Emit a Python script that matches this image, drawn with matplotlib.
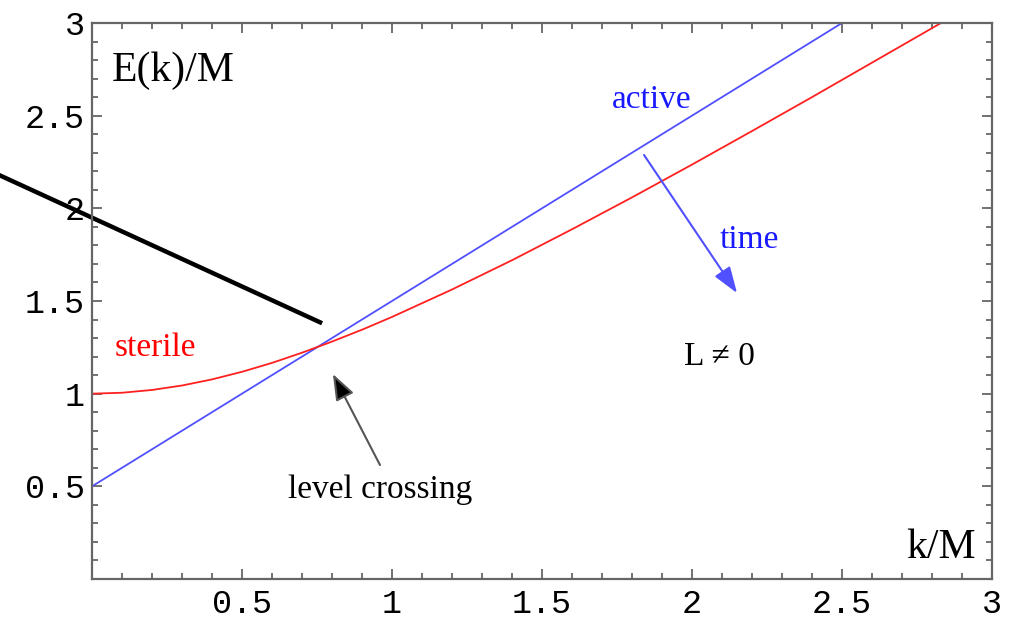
import matplotlib.pyplot as plt
from matplotlib.ticker import MultipleLocator

# values
k_active = [0.0, 2.5]
E_active = [0.5, 3.0]

k_sterile = [0.0, 0.1, 0.2, 0.3, 0.4, 0.5, 0.6, 0.7, 0.8, 0.9, 1.0, 1.2, 1.4, 1.6, 1.8,
             2.0, 2.2, 2.4, 2.6, 2.83]
E_sterile = [1.0, 1.005, 1.02, 1.044, 1.077, 1.118, 1.166, 1.221, 1.281, 1.345, 1.414,
             1.562, 1.72, 1.887, 2.059, 2.236, 2.417, 2.6, 2.786, 3.0]

pointer_k = [-0.31, 0.767]
pointer_E = [2.18, 1.38]

x_ticks = [0.5, 1, 1.5, 2, 2.5, 3]
y_ticks = [0.5, 1, 1.5, 2, 2.5, 3]
tick_labels = ['0.5', '1', '1.5', '2', '2.5', '3']

serif = 'Liberation Serif'
mono = 'Liberation Mono'
blue_line = '#5050ff'
blue_text = '#1a1aff'
frame = '#666666'

fig = plt.figure(figsize=(10.12, 6.19), dpi=100)
ax = fig.add_axes([92 / 1012, 40 / 619, 900 / 1012, 556 / 619])

ax.plot(k_active, E_active, color=blue_line, lw=1.3)
ax.plot(k_sterile, E_sterile, color='#ff2020', lw=1.3)
ax.plot(pointer_k, pointer_E, color='black', lw=3.2, clip_on=False, solid_capstyle='butt')

ax.set_xlim(0, 3)
ax.set_ylim(0, 3)
ax.set_xticks(x_ticks)
ax.set_yticks(y_ticks)
ax.set_xticklabels(tick_labels, fontfamily=mono, fontsize=24)
ax.set_yticklabels(tick_labels, fontfamily=mono, fontsize=24)
ax.xaxis.set_minor_locator(MultipleLocator(0.1))
ax.yaxis.set_minor_locator(MultipleLocator(0.1))
ax.tick_params(which='both', direction='in', top=True, right=True, color=frame, width=1.3)
ax.tick_params(which='major', length=7, pad=5)
ax.tick_params(axis='x', which='major', pad=7)
ax.tick_params(which='minor', length=4)
for sp in ax.spines.values():
    sp.set_color(frame)
    sp.set_linewidth(1.6)

# labels
ax.text(0.067, 2.74, 'E(k)/M', fontfamily=serif, fontsize=30, va='center', ha='left')
ax.text(2.83, 0.167, 'k/M', fontfamily=serif, fontsize=30, va='center', ha='center')
ax.text(1.867, 2.585, 'active', fontfamily=serif, fontsize=24, color=blue_text, va='center', ha='center')
ax.text(0.21, 1.25, 'sterile', fontfamily=serif, fontsize=24, color='red', va='center', ha='center')
ax.text(2.19, 1.83, 'time', fontfamily=serif, fontsize=24, color=blue_text, va='center', ha='center')
ax.text(2.09, 1.20, 'L ≠ 0', fontfamily=serif, fontsize=24, va='center', ha='center')
ax.text(0.96, 0.48, 'level crossing', fontfamily=serif, fontsize=24, va='center', ha='center')

# arrows
ax.annotate('', xy=(0.803, 1.106), xytext=(0.96, 0.615),
            arrowprops=dict(arrowstyle='-|>,head_length=0.8,head_width=0.3', mutation_scale=20,
                            edgecolor='#555555', facecolor='black', lw=1.5,
                            shrinkA=0, shrinkB=0))
ax.annotate('', xy=(2.15, 1.543), xytext=(1.84, 2.288),
            arrowprops=dict(arrowstyle='-|>,head_length=0.8,head_width=0.28', mutation_scale=20,
                            color=blue_line, lw=1.5, shrinkA=0, shrinkB=0))

fig.savefig('out.png', dpi=100)
